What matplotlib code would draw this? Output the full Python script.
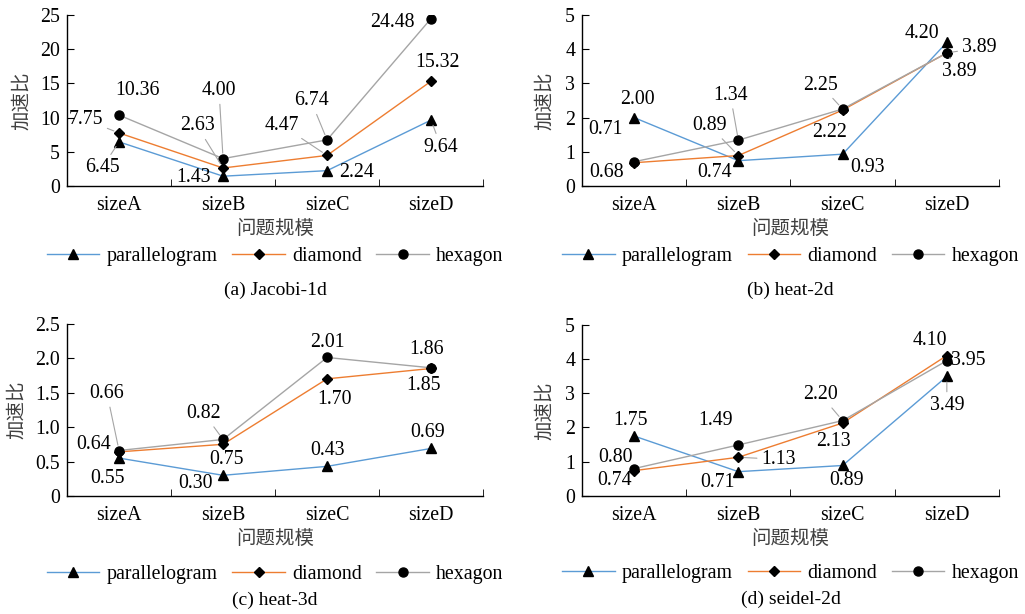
import numpy as np
import matplotlib
matplotlib.use('Agg')
import matplotlib.pyplot as plt

plt.rcParams['font.family'] = ['Liberation Serif', 'Noto Sans CJK SC']
plt.rcParams['font.size'] = 14.3

# datos
sizes = ['sizeA', 'sizeB', 'sizeC', 'sizeD']
series = ['parallelogram', 'diamond', 'hexagon']

jacobi_par = [6.45, 1.43, 2.24, 9.64]
jacobi_dia = [7.75, 2.63, 4.47, 15.32]
jacobi_hex = [10.36, 4.00, 6.74, 24.48]

heat2d_par = [2.00, 0.74, 0.93, 4.20]
heat2d_dia = [0.68, 0.89, 2.22, 3.89]
heat2d_hex = [0.71, 1.34, 2.25, 3.89]

heat3d_par = [0.55, 0.30, 0.43, 0.69]
heat3d_dia = [0.64, 0.75, 1.70, 1.85]
heat3d_hex = [0.66, 0.82, 2.01, 1.86]

seidel_par = [1.75, 0.71, 0.89, 3.49]
seidel_dia = [0.74, 1.13, 2.13, 4.10]
seidel_hex = [0.80, 1.49, 2.20, 3.95]

yticks_a = [0, 5, 10, 15, 20, 25]
yticks_b = [0, 1, 2, 3, 4, 5]
yticks_c = [0, 0.5, 1.0, 1.5, 2.0, 2.5]
ylabels_c = ['0', '0.5', '1.0', '1.5', '2.0', '2.5']
yticks_d = [0, 1, 2, 3, 4, 5]

titles = ['(a) Jacobi-1d', '(b) heat-2d', '(c) heat-3d', '(d) seidel-2d']

colores = ['#5B9BD5', '#ED7D31', '#A5A5A5']
marcas = [('^', 7), ('D', 5), ('o', 6.5)]

# desplazamiento de etiquetas en pixeles (dx, dy hacia arriba), y si llevan linea guia
desp_a = [
    [(-17, -26, 1), (-30, -1, 0), (29, -2, 0), (10, -27, 1)],
    [(-33, 13, 1), (-26, 42, 1), (-45, 30, 1), (6, 19, 0)],
    [(18, 25, 0), (-4, 68, 1), (-16, 39, 1), (-39, -4, 0)],
]
desp_b = [
    [(3, 18, 0), (-24, -12, 0), (25, -13, 0), (-25, 9, 0)],
    [(-28, -10, 0), (-29, 30, 1), (-13, -22, 0), (32, 5, 1)],
    [(-29, 32, 0), (-8, 45, 1), (-22, 24, 1), (12, -19, 1)],
]
desp_c = [
    [(-12, -20, 0), (-28, -8, 0), (0, 16, 0), (-4, 16, 0)],
    [(-25, 7, 0), (3, -15, 0), (7, -21, 0), (-8, -17, 0)],
    [(-12, 57, 1), (-19, 26, 1), (0, 15, 0), (-4, 18, 0)],
]
desp_d = [
    [(-4, 16, 0), (-21, -11, 0), (4, -15, 0), (0, -29, 1)],
    [(-20, -10, 0), (40, -2, 1), (-9, -18, 0), (-17, 15, 0)],
    [(-19, 11, 0), (-23, 24, 0), (-22, 26, 1), (21, 0, 0)],
]


def graficar(ax, datos, desp, yticks, ylabels, titulo, leg_y, tit_y, xl_y, yl_x):
    x = np.arange(len(sizes))
    lineas = []
    for k in range(3):
        l, = ax.plot(x, datos[k], '-', color=colores[k], lw=1.0,
                     marker=marcas[k][0], ms=marcas[k][1], mfc='black',
                     mec='black', label=series[k], zorder=3)
        lineas.append(l)
    for k in range(3):
        for i in range(len(sizes)):
            dx, dy, guia = desp[k][i]
            props = None
            if guia:
                props = dict(arrowstyle='-', color='#A5A5A5', lw=0.8,
                             shrinkA=1, shrinkB=4)
            ax.annotate('%.2f' % datos[k][i], xy=(x[i], datos[k][i]),
                        xytext=(dx, dy), textcoords='offset pixels',
                        ha='center', va='center', fontsize=14.3,
                        arrowprops=props, zorder=4)
    ax.set_xlim(-0.5, 3.5)
    ax.set_ylim(yticks[0], yticks[-1])
    ax.set_xticks(x)
    ax.set_xticklabels(sizes)
    ax.set_xticks([0.5, 1.5, 2.5, 3.5], minor=True)
    ax.tick_params(axis='x', which='major', length=0, pad=7)
    ax.tick_params(axis='x', which='minor', direction='in', length=5)
    ax.set_yticks(yticks)
    ax.set_yticklabels(ylabels)
    ax.tick_params(axis='y', direction='in', length=5, pad=5)
    for s in ['top', 'right']:
        ax.spines[s].set_visible(False)
    for s in ['left', 'bottom']:
        ax.spines[s].set_linewidth(1.0)
    ax.text(0.5, xl_y, '问题规模', transform=ax.transAxes, ha='center',
            va='center', fontsize=14, color='#404040')
    ax.text(yl_x, 0.5, '加速比', transform=ax.transAxes, ha='center',
            va='center', rotation=90, fontsize=14, color='#404040')
    ax.text(0.5, tit_y, titulo, transform=ax.transAxes, ha='center',
            va='center', fontsize=14)
    ax.legend(handles=lineas, loc='center', bbox_to_anchor=(0.5, leg_y),
              ncol=3, frameon=False, handlelength=2.65, handletextpad=0.35,
              columnspacing=0.75, fontsize=14.3)


fig = plt.figure(figsize=(10.25, 6.14), dpi=100)
ax_a = fig.add_axes([0.0654, 0.6971, 0.4059, 0.2785])
ax_b = fig.add_axes([0.5678, 0.6971, 0.4068, 0.2785])
ax_c = fig.add_axes([0.0654, 0.1922, 0.4059, 0.2806])
ax_d = fig.add_axes([0.5678, 0.1922, 0.4068, 0.2790])

graficar(ax_a, [jacobi_par, jacobi_dia, jacobi_hex], desp_a, yticks_a,
         [str(v) for v in yticks_a], titles[0], -0.415, -0.608, -0.251, -0.108)
graficar(ax_b, [heat2d_par, heat2d_dia, heat2d_hex], desp_b, yticks_b,
         [str(v) for v in yticks_b], titles[1], -0.415, -0.608, -0.251, -0.089)
graficar(ax_c, [heat3d_par, heat3d_dia, heat3d_hex], desp_c, yticks_c,
         ylabels_c, titles[2], -0.453, -0.604, -0.248, -0.12)
graficar(ax_d, [seidel_par, seidel_dia, seidel_hex], desp_d, yticks_d,
         [str(v) for v in yticks_d], titles[3], -0.453, -0.604, -0.248, -0.089)

fig.savefig('out.png', dpi=100)
